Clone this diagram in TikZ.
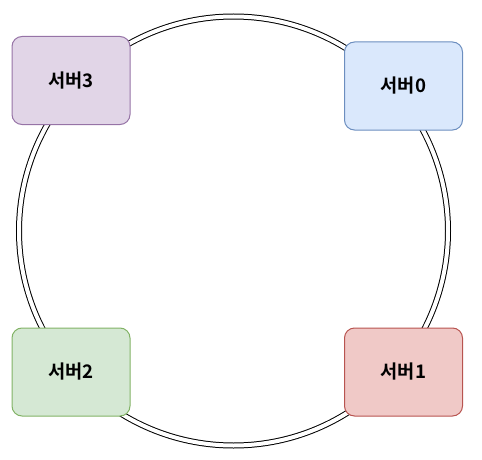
\documentclass[tikz,border=0pt]{standalone}
\usepackage{fontspec}
\newfontfamily\krfont{Noto Sans CJK KR}[BoldFont={* Bold}]
\definecolor{blueFill}{HTML}{DAE8FC}
\definecolor{blueLine}{HTML}{6C8EBF}
\definecolor{redFill}{HTML}{F0C9C7}
\definecolor{redLine}{HTML}{B85450}
\definecolor{greenFill}{HTML}{D5E8D4}
\definecolor{greenLine}{HTML}{82B366}
\definecolor{purpleFill}{HTML}{E1D5E7}
\definecolor{purpleLine}{HTML}{9673A6}
\begin{document}
\begin{tikzpicture}[
    x=0.75pt, y=-0.75pt,
    server/.style={rectangle, rounded corners=7.5pt, line width=0.75pt, minimum width=88.5pt, minimum height=66pt, text centered, font=\krfont\bfseries\fontsize{14}{16}\selectfont},
    ring/.style={line width=0.75pt, double, double distance=3pt}
]
\useasboundingbox (0,0) rectangle (482,460);

% Ring
\draw[ring] (233.5,231) circle [radius=214.5];

% Servers
\node[server, fill=blueFill, draw=blueLine] (s0) at (403.5,86) {서버0};
\node[server, fill=redFill, draw=redLine] (s1) at (403.5,372) {서버1};
\node[server, fill=greenFill, draw=greenLine] (s2) at (71,372) {서버2};
\node[server, fill=purpleFill, draw=purpleLine] (s3) at (71,80.5) {서버3};

\end{tikzpicture}
\end{document}
